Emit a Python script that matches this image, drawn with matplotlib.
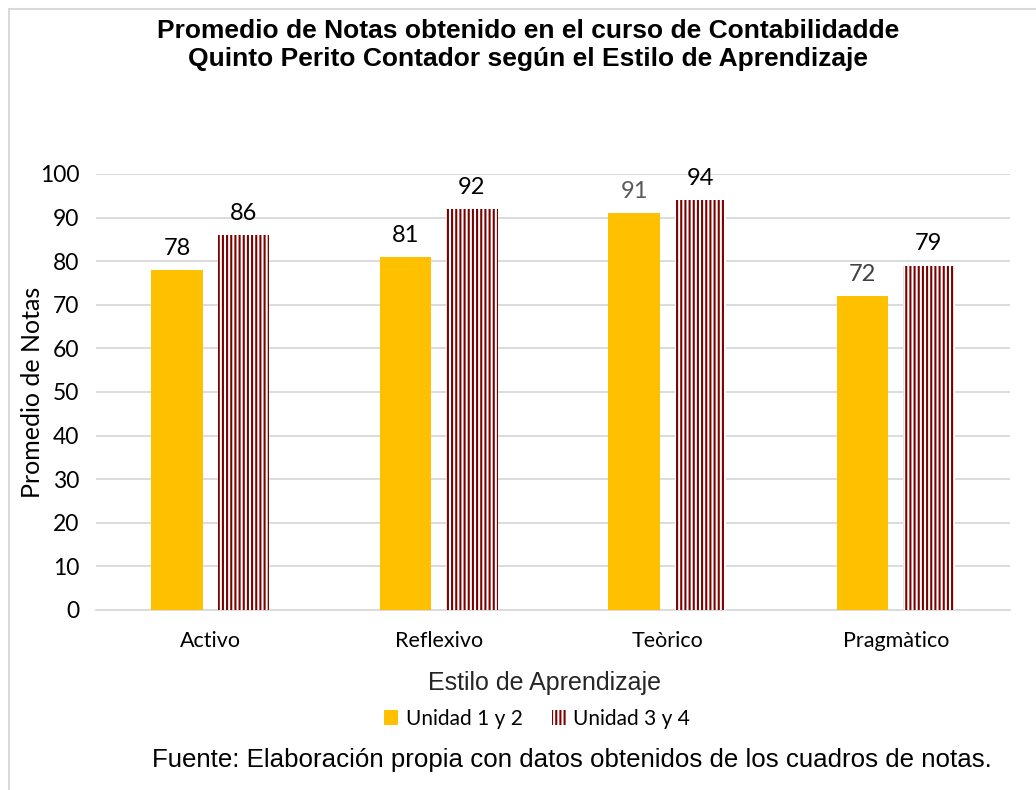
import matplotlib
matplotlib.use("Agg")
import matplotlib.pyplot as plt
import numpy as np
from matplotlib.patches import Rectangle

categories = ["Activo", "Reflexivo", "Teòrico", "Pragmàtico"]
unidad_12 = [78, 81, 91, 72]
unidad_34 = [86, 92, 94, 79]
label_colors_12 = ["#000000", "#000000", "#595959", "#404040"]
label_colors_34 = ["#000000", "#000000", "#000000", "#000000"]
series_names = ["Unidad 1 y 2", "Unidad 3 y 4"]
yticks = [0, 10, 20, 30, 40, 50, 60, 70, 80, 90, 100]

title = ("Promedio de Notas obtenido en el curso de Contabilidadde\n"
         "Quinto Perito Contador según el Estilo de Aprendizaje")
xlabel = "Estilo de Aprendizaje"
ylabel = "Promedio de Notas"
source = "Fuente: Elaboración propia con datos obtenidos de los cuadros de notas."

plt.rcParams["hatch.linewidth"] = 1.5
body_font = ["Lato", "DejaVu Sans"]
arial = ["Liberation Sans", "DejaVu Sans"]

fig = plt.figure(figsize=(10.36, 7.90), dpi=100)
fig.patch.set_facecolor("white")
ax = fig.add_axes([96/1036, 1-610/790, 914/1036, (610-174)/790])

x = np.arange(len(categories))
w = 0.225
off = 0.145
b1 = ax.bar(x - off, unidad_12, width=w, color="#FFC000", linewidth=0, zorder=3,
            label=series_names[0])
b2 = ax.bar(x + off, unidad_34, width=w, facecolor="white", edgecolor="#7B0000",
            hatch="||||", linewidth=0, zorder=3, label=series_names[1])

for rect, v, c in zip(b1, unidad_12, label_colors_12):
    ax.annotate(str(v), (rect.get_x() + rect.get_width()/2, v), xytext=(0, 8),
                textcoords="offset points", ha="center", va="bottom",
                fontsize=17, color=c, family=body_font)
for rect, v, c in zip(b2, unidad_34, label_colors_34):
    ax.annotate(str(v), (rect.get_x() + rect.get_width()/2, v), xytext=(0, 8),
                textcoords="offset points", ha="center", va="bottom",
                fontsize=17, color=c, family=body_font)

ax.set_xlim(-0.5, len(categories) - 0.5)
ax.set_ylim(0, 100)
ax.set_yticks(yticks)
ax.set_yticklabels([str(t) for t in yticks], fontsize=16.5, family=body_font)
ax.set_xticks(x)
ax.set_xticklabels(categories, fontsize=15.5, family=body_font)
ax.tick_params(axis="both", length=0, colors="black")
ax.tick_params(axis="y", pad=12)
ax.tick_params(axis="x", pad=15)
ax.grid(axis="y", color="#D9D9D9", linewidth=1.3, zorder=0)
for s in ["top", "right", "left"]:
    ax.spines[s].set_visible(False)
ax.spines["bottom"].set_color("#D9D9D9")
ax.spines["bottom"].set_linewidth(1.3)

ax.set_ylabel(ylabel, fontsize=18, family=body_font)
ax.yaxis.set_label_coords(-52/914, 0.5)
fig.text(545/1036, 1-683/790, xlabel, ha="center", va="center", fontsize=18,
         family=arial, color="#262626")

fig.text(528/1036, 1-45/790, title, ha="center", va="center", fontsize=19,
         fontweight="bold", family=arial, linespacing=1.22)

leg = fig.legend(handles=[b1, b2], labels=series_names, loc="center",
                 bbox_to_anchor=(537/1036, 1-719/790), ncol=2, frameon=False,
                 prop={"family": body_font, "size": 15}, handlelength=0.7,
                 handleheight=0.7, handletextpad=0.35, columnspacing=1.4)

fig.text(572/1036, 1-760/790, source, ha="center", va="center", fontsize=18.6,
         family=arial, color="black")

border = Rectangle((9/1036, -0.1), 1.2, 1-9/790 + 0.1, transform=fig.transFigure,
                   fill=False, edgecolor="#D9D9D9", linewidth=1.5)
fig.patches.append(border)

fig.savefig("out.png", dpi=100)
